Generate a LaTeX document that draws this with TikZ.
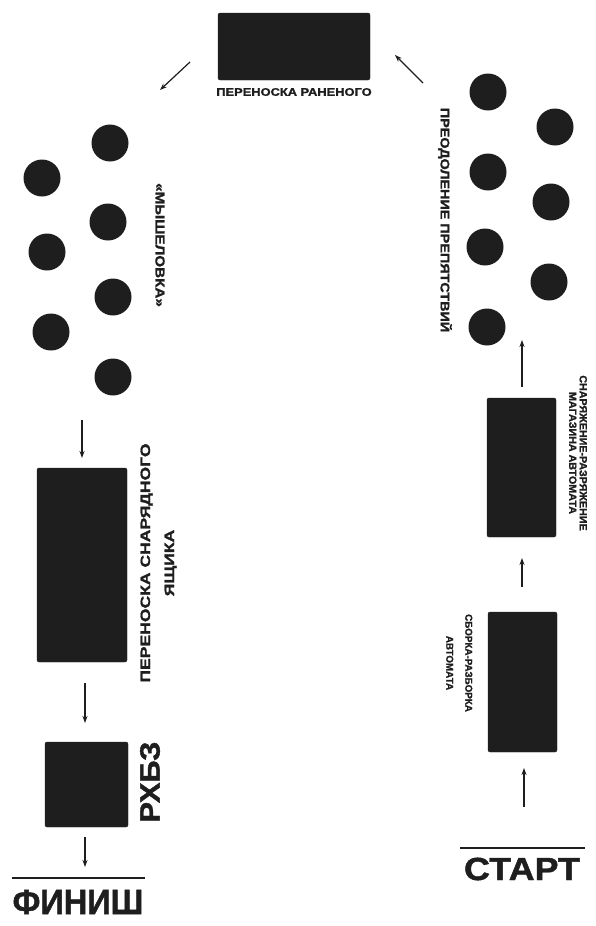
\documentclass[tikz,border=0pt]{standalone}
\usepackage{fontspec}
\setmainfont{Liberation Sans}
\newfontfamily\hv[FakeBold=1.3]{Liberation Sans Bold}
\usetikzlibrary{arrows.meta}
\definecolor{ink}{HTML}{1E1E1E}
\begin{document}
\begin{tikzpicture}[x=1pt,y=-1pt,
  blk/.style={fill=ink,draw=ink,rounded corners=2pt},
  dot/.style={circle,fill=ink,minimum size=37pt,inner sep=0pt},
  arr/.style={draw=ink,line width=1.2pt,-{Stealth[length=7pt,width=5pt]}},
  lbl/.style={inner sep=0pt,text=ink,font=\hv,align=center},
  bar/.style={draw=ink,line width=1.6pt}]
\useasboundingbox (0,0) rectangle (595,926);
\fill[white] (0,0) rectangle (595,926);
% boxes
\draw[blk] (218,13) rectangle (370,80);
\draw[blk] (487,398) rectangle (556,537);
\draw[blk] (488,612) rectangle (557,752);
\draw[blk] (37,468) rectangle (127,662);
\draw[blk] (45,742) rectangle (128,827);
% circles left
\node[dot] (l1) at (110,143) {};
\node[dot] (l2) at (42,178) {};
\node[dot] (l3) at (108,222) {};
\node[dot] (l4) at (47,252) {};
\node[dot] (l5) at (113,297) {};
\node[dot] (l6) at (51,332) {};
\node[dot] (l7) at (113,377) {};
% circles right
\node[dot] (r1) at (488,92) {};
\node[dot] (r2) at (555,127) {};
\node[dot] (r3) at (488,172) {};
\node[dot] (r4) at (551,202) {};
\node[dot] (r5) at (485,247) {};
\node[dot] (r6) at (549,282) {};
\node[dot] (r7) at (487,327) {};
% labels
\node[lbl] (t1) at (294,92) {\fontsize{11}{12}\selectfont\scalebox{1.17}[1]{ПЕРЕНОСКА РАНЕНОГО}};
\node[lbl,rotate=-90] (t2) at (445,220) {\fontsize{12.5}{14}\selectfont\scalebox{1.15}[1]{ПРЕОДОЛЕНИЕ ПРЕПЯТСТВИЙ}};
\node[lbl,rotate=-90] (t3) at (160,245) {\fontsize{13}{14}\selectfont\scalebox{1.17}[1]{«МЫШЕЛОВКА»}};
\node[lbl,rotate=-90] (t4) at (578,453) {\fontsize{10.5}{12.5}\selectfont\scalebox{1.02}[1]{\shortstack{СНАРЯЖЕНИЕ-РАЗРЯЖЕНИЕ\\[0pt]МАГАЗИНА АВТОМАТА}}};
\node[lbl,rotate=-90] (t5) at (459,663) {\fontsize{10}{16}\selectfont\scalebox{0.98}[1]{\begin{tabular}{@{}c@{}}СБОРКА-РАЗБОРКА\\[3pt]АВТОМАТА\end{tabular}}};
\node[lbl,rotate=90] (t6) at (158,563) {\fontsize{13.5}{20}\selectfont\scalebox{1.3}[1]{\begin{tabular}{@{}c@{}}ПЕРЕНОСКА СНАРЯДНОГО\\[4pt]ЯЩИКА\end{tabular}}};
\node[lbl,rotate=90] (t7) at (150,782) {\fontsize{28}{30}\selectfont\scalebox{1.1}[1]{РХБЗ}};
\node[lbl] (t8) at (78,902) {\fontsize{35}{36}\selectfont\scalebox{0.93}[1]{ФИНИШ}};
\node[lbl] (t9) at (522,869) {\fontsize{32}{34}\selectfont\scalebox{1.12}[1]{СТАРТ}};
% bars
\coordinate (s1) at (460,848); \coordinate (s2) at (585,848);
\coordinate (f1) at (12,878); \coordinate (f2) at (145,878);
\draw[bar] (s1) -- (s2);
\draw[bar] (f1) -- (f2);
% arrows
\coordinate (a1s) at (524,807); \coordinate (a1e) at (524,768);
\coordinate (a2s) at (522,587); \coordinate (a2e) at (522,558);
\coordinate (a3s) at (522,387); \coordinate (a3e) at (522,340);
\coordinate (a4s) at (423,83);  \coordinate (a4e) at (395,55);
\coordinate (a5s) at (190,62);  \coordinate (a5e) at (160,90);
\coordinate (a6s) at (82,420);  \coordinate (a6e) at (82,458);
\coordinate (a7s) at (85,683);  \coordinate (a7e) at (85,723);
\coordinate (a8s) at (85,837);  \coordinate (a8e) at (85,867);
\foreach \i in {1,...,8} \draw[arr] (a\i s) -- (a\i e);
\end{tikzpicture}
\end{document}
